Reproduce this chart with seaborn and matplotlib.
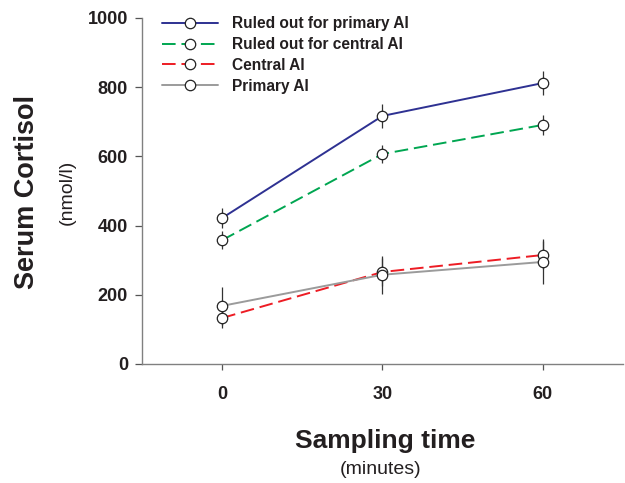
import numpy as np
import pandas as pd
import matplotlib
matplotlib.use('Agg')
import matplotlib.pyplot as plt
import seaborn as sns

# ===== DONNEES =====
temps = [0, 30, 60]
series = ['Ruled out for primary AI', 'Ruled out for central AI', 'Central AI', 'Primary AI']
moy_primary_out = [422, 717, 812]
err_primary_out = [30, 35, 35]
moy_central_out = [358, 607, 691]
err_central_out = [25, 25, 30]
moy_central = [133, 266, 315]
err_central = [28, 40, 40]
moy_primary = [168, 258, 295]
err_primary = [55, 55, 65]

couleurs = ['#2E3192', '#00A651', '#ED1C24', '#9B9B9B']
styles = ['-', (0, (7, 3)), (0, (7, 3)), '-']
moyennes = [moy_primary_out, moy_central_out, moy_central, moy_primary]
erreurs = [err_primary_out, err_central_out, err_central, err_primary]

# ===== STYLE =====
sns.set_style("white")
plt.rcParams['font.family'] = ['Liberation Sans', 'DejaVu Sans']
txt = '#231F20'

fig = plt.figure(figsize=(6.25, 4.83), dpi=100)
ax = fig.add_axes([142 / 625, 1 - 364 / 483, (623 - 142) / 625, (364 - 18) / 483])

for nom, moy, err, c, ls in zip(series, moyennes, erreurs, couleurs, styles):
    df = pd.DataFrame({'temps': temps, 'cortisol': moy})
    ax.errorbar(temps, moy, yerr=err, fmt='none', ecolor='#333333', elinewidth=0.9,
                capsize=0, zorder=1)
    sns.lineplot(data=df, x='temps', y='cortisol', ax=ax, color=c, linestyle=ls,
                 linewidth=1.4, marker='o', markersize=7.5, markerfacecolor='white',
                 markeredgecolor='#222222', markeredgewidth=0.9, label=nom, zorder=3)

ax.set_xlim(-15, 75)
ax.set_ylim(0, 1000)
ax.set_xticks(temps)
ax.set_yticks([0, 200, 400, 600, 800, 1000])
ax.set_xlabel('')
ax.set_ylabel('')
for s in ['top', 'right']:
    ax.spines[s].set_visible(False)
for s in ['left', 'bottom']:
    ax.spines[s].set_color('#808080')
    ax.spines[s].set_linewidth(1.0)
ax.tick_params(axis='both', which='major', direction='out', color='#555555',
               labelcolor=txt, labelsize=13, width=0.9)
ax.tick_params(axis='y', length=5, pad=5, left=True)
ax.tick_params(axis='x', length=4, pad=12, bottom=True)
for lab in ax.get_xticklabels() + ax.get_yticklabels():
    lab.set_fontweight('bold')

leg = ax.legend(loc='upper left', bbox_to_anchor=(154 / 625, 1 - 8.5 / 483),
                bbox_transform=fig.transFigure, frameon=False, borderpad=0,
                handlelength=3.6, handletextpad=0.9, labelspacing=0.37,
                prop={'size': 11.2, 'weight': 'bold'})
for t in leg.get_texts():
    t.set_color(txt)

# titres des axes
fig.text(27 / 625, 1 - 192 / 483, 'Serum Cortisol', rotation=90, ha='center', va='center',
         fontsize=19.5, fontweight='bold', color=txt)
fig.text(67 / 625, 1 - 192 / 483, '(nmol/l)', rotation=90, ha='center', va='center',
         fontsize=14, color=txt)
fig.text(385 / 625, 1 - 441 / 483, 'Sampling time', ha='center', va='center',
         fontsize=19, fontweight='bold', color=txt)
fig.text(381 / 625, 1 - 470 / 483, '(minutes)', ha='center', va='center',
         fontsize=14, color=txt)

plt.savefig('out.png', dpi=100)
